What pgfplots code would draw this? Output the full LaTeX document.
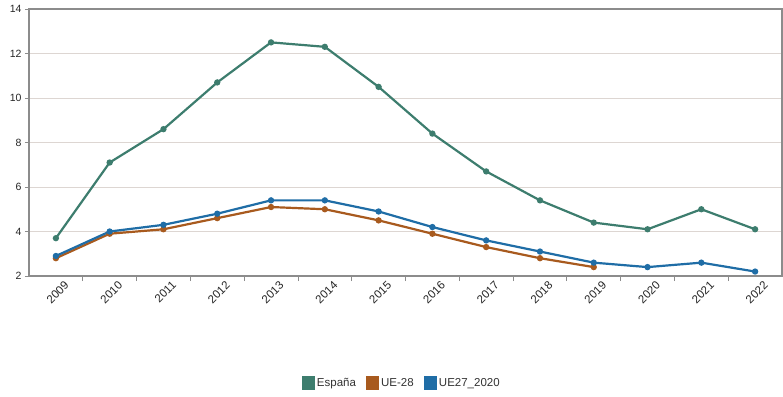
\documentclass[border=0pt]{standalone}
\usepackage{pgfplots}
\pgfplotsset{compat=1.18}
\usepackage{fontspec}
\setmainfont{Liberation Sans}
\definecolor{esp}{HTML}{3D7D6E}
\definecolor{ue28}{HTML}{A85A1E}
\definecolor{ue27}{HTML}{1F6DA6}
\definecolor{gridc}{HTML}{DDD6D2}
\definecolor{axc}{HTML}{8C8C8C}
\begin{document}
\begin{tikzpicture}
\useasboundingbox (-29pt,-120pt) rectangle (754pt,276pt);
\begin{axis}[
  at={(0,0)}, anchor=south west,
  scale only axis, width=753pt, height=267pt,
  xmin=-0.5, xmax=13.5, ymin=2, ymax=14,
  xtick={0,...,13},
  xticklabels={2009,2010,2011,2012,2013,2014,2015,2016,2017,2018,2019,2020,2021,2022},
  minor xtick={0.5,1.5,...,12.5},
  xtick pos=bottom, ytick pos=left,
  major x tick style={draw=none},
  minor x tick style={draw=axc, line width=0.8pt},
  minor tick length=5pt,
  ytick={2,4,...,14},
  major tick length=4pt,
  tick align=outside,
  y tick style={draw=axc, line width=0.8pt},
  ymajorgrids, major grid style={gridc, line width=0.8pt},
  axis line style={axc, line width=1.2pt},
  x tick label style={rotate=45, anchor=north east, font=\fontsize{11.5}{13}\selectfont, color=black!85, inner sep=0.5pt, yshift=-5pt, xshift=6pt},
  y tick label style={font=\fontsize{10.5}{12}\selectfont, color=black!85},
  /pgf/number format/assume math mode=true,
  legend columns=3,
  legend style={at={(0.495,-0.40)}, anchor=center, draw=none, font=\fontsize{11.5}{13}\selectfont, text=black!80, /tikz/every even column/.append style={column sep=8pt}},
  legend image code/.code={\fill[#1] (0pt,-6pt) rectangle (11pt,6pt);},
  every axis plot/.append style={line width=2.2pt, mark=*, mark size=2pt},
]
\addplot[color=esp, mark options={fill=esp}] coordinates {
(0,3.7) (1,7.1) (2,8.6) (3,10.7) (4,12.5) (5,12.3) (6,10.5) (7,8.4) (8,6.7) (9,5.4) (10,4.4) (11,4.1) (12,5.0) (13,4.1)};
\addlegendentry{España}
\addplot[color=ue28, mark options={fill=ue28}] coordinates {
(0,2.8) (1,3.9) (2,4.1) (3,4.6) (4,5.1) (5,5.0) (6,4.5) (7,3.9) (8,3.3) (9,2.8) (10,2.4)};
\addlegendentry{UE-28}
\addplot[color=ue27, mark options={fill=ue27}] coordinates {
(0,2.9) (1,4.0) (2,4.3) (3,4.8) (4,5.4) (5,5.4) (6,4.9) (7,4.2) (8,3.6) (9,3.1) (10,2.6) (11,2.4) (12,2.6) (13,2.2)};
\addlegendentry{UE27\_2020}
\end{axis}
\end{tikzpicture}
\end{document}
